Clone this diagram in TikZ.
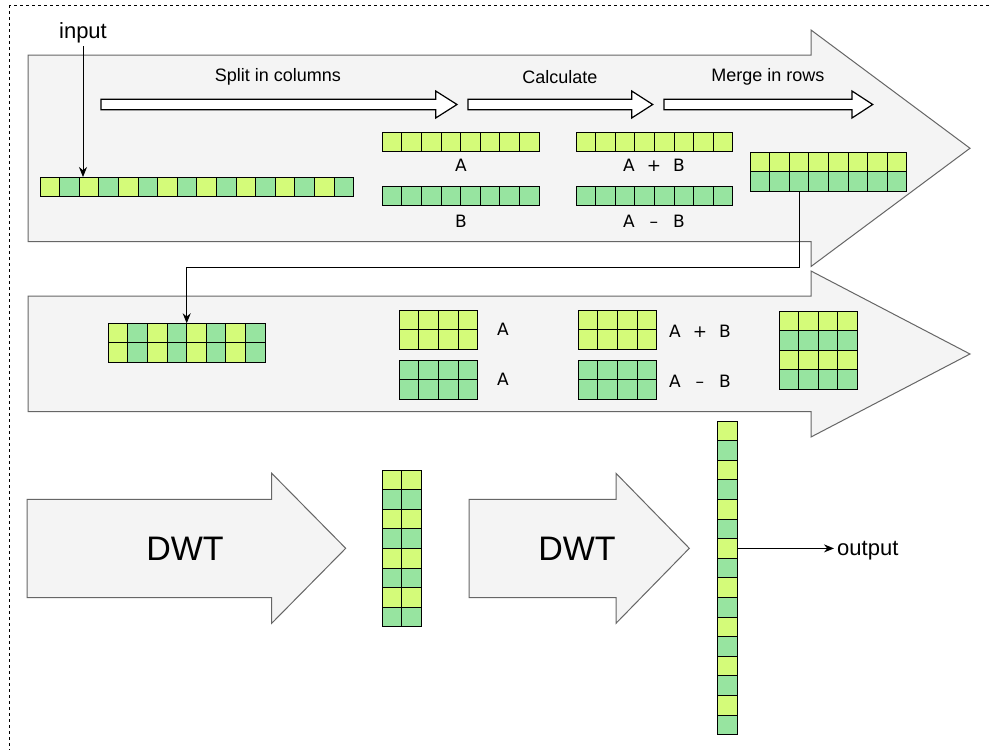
\documentclass[tikz,border=0pt]{standalone}
\usepackage{fontspec}
\usepackage{calc}
\setmainfont{Liberation Sans}
\newfontfamily\abfont{DejaVu Sans}
\usetikzlibrary{arrows.meta}
\definecolor{cy}{HTML}{D4FB79}
\definecolor{cg}{HTML}{97E4A0}
\definecolor{bgray}{HTML}{F4F4F4}
\definecolor{bstroke}{HTML}{666666}
\newcommand{\mkgrid}[6]{% name, x, y, cols, rows, mode (0 yellow, 1 green, 2 alt columns, 3 alt rows)
  \foreach \c in {1,...,#4}{%
    \foreach \r in {1,...,#5}{%
      \pgfmathtruncatemacro{\k}{#6==0 ? 0 : (#6==1 ? 1 : (#6==2 ? mod(\c+1,2) : mod(\r+1,2)))}%
      \ifnum\k=0 \def\cc{cy}\else\def\cc{cg}\fi
      \node[cell,fill=\cc] (#1-\r-\c) at ({#2+(\c-0.5)*19.6},{#3+(\r-0.5)*19.6}) {};
    }%
  }%
}
\newcommand{\blockarrow}[7]{% x0, x head, x tip, body top, body bottom, head top, head bottom
  \draw[bigarrow] (#1,#4) -- (#2,#4) -- (#2,#6) -- (#3,{(#6+#7)/2}) -- (#2,#7) -- (#2,#5) -- (#1,#5) -- cycle;}
\newcommand{\hollowarrow}[3]{% x0, x head, x tip
  \draw[hollow] (#1,99.3) -- (#2,99.3) -- (#2,91) -- (#3,104.5) -- (#2,118) -- (#2,109.7) -- (#1,109.7) -- cycle;}
\begin{document}
\begin{tikzpicture}[x=1pt,y=-1pt,
  cell/.style={draw=black,line width=1pt,minimum size=19.6pt,inner sep=0pt,outer sep=0pt},
  bigarrow/.style={draw=bstroke,fill=bgray,line width=1pt},
  hollow/.style={draw=black,fill=white,line width=1.2pt},
  conn/.style={draw=black,line width=1pt,-{Stealth[length=10pt,width=8pt]}},
  lbl/.style={font=\fontsize{18}{21}\selectfont,inner sep=0pt},
  ab/.style={font=\abfont\fontsize{17}{20}\selectfont,inner sep=0pt},
  io/.style={font=\fontsize{22}{26}\selectfont,inner sep=3pt},
  dwt/.style={font=\fontsize{34}{40}\selectfont,inner sep=0pt}]
\useasboundingbox (0,0) rectangle (989,750);
\clip (0,0) rectangle (989,750);
\fill[white] (0,0) rectangle (989,750);
\draw[line width=1pt,dash pattern=on 3pt off 3pt] (9.5,5) rectangle (1000,770);

% big block arrows
\blockarrow{28}{811}{970}{55}{241.5}{30}{266.5}
\blockarrow{28}{811}{970}{296}{411.7}{271}{437}
\blockarrow{27}{271.7}{345.7}{499.3}{597.7}{473.3}{623.3}
\blockarrow{469}{616}{689.3}{499.3}{597.7}{473.3}{623.3}

% small hollow arrows
\hollowarrow{101}{435.7}{457}
\hollowarrow{468}{631.7}{652.7}
\hollowarrow{664}{852}{872.7}

% labels
\node[lbl] (split) at (278,77) {Split in columns};
\node[lbl] (calc) at (560,77) {Calculate};
\node[lbl] (merge) at (768,77) {Merge in rows};
\node[io] (input) at (83,33) {input};

% first row grids
\mkgrid{in}{40}{177}{16}{1}{2}
\mkgrid{ga}{382.3}{132.3}{8}{1}{0}
\mkgrid{gb}{382.3}{186}{8}{1}{1}
\mkgrid{gs}{576}{132.3}{8}{1}{0}
\mkgrid{gd}{576}{186}{8}{1}{1}
\mkgrid{mg}{750}{152.3}{8}{2}{3}
\node[ab] (la) at (461,165) {A};
\node[ab] (lb) at (461,221) {B};
\node[ab] (ls) at (654,165) {A\hspace{12pt}+\hspace{12pt}B};
\node[ab] (ld) at (654,221) {A\hspace{12pt}\makebox[\widthof{+}][c]{–}\hspace{12pt}B};

% second row grids
\mkgrid{r2}{108.3}{323.3}{8}{2}{2}
\mkgrid{qa}{399.3}{310}{4}{2}{0}
\mkgrid{qb}{399.3}{360}{4}{2}{1}
\mkgrid{qs}{578.3}{310}{4}{2}{0}
\mkgrid{qd}{578.3}{360}{4}{2}{1}
\mkgrid{sq}{779}{311}{4}{4}{3}
\node[ab] (la2) at (503,329) {A};
\node[ab] (lb2) at (503,379) {A};
\node[ab] (ls2) at (700,331) {A\hspace{12pt}+\hspace{12pt}B};
\node[ab] (ld2) at (700,381) {A\hspace{12pt}\makebox[\widthof{+}][c]{–}\hspace{12pt}B};

% third row
\node[dwt] (dwt1) at (185,549) {DWT};
\node[dwt] (dwt2) at (577,549) {DWT};
\mkgrid{vt}{382.3}{470}{2}{8}{3}
\mkgrid{col}{717.7}{421}{1}{16}{3}
\node[io,anchor=west] (out) at (834,550.5) {output};

% connectors
\draw[conn] (input.south) -- (input.south |- in-1-3.north);
\draw[conn] (mg-2-3.south) -- ++(0,76.3) -| (r2-1-5.north west);
\draw[conn] (col-7-1.east) -- (col-7-1.east -| out.west);
\end{tikzpicture}
\end{document}
